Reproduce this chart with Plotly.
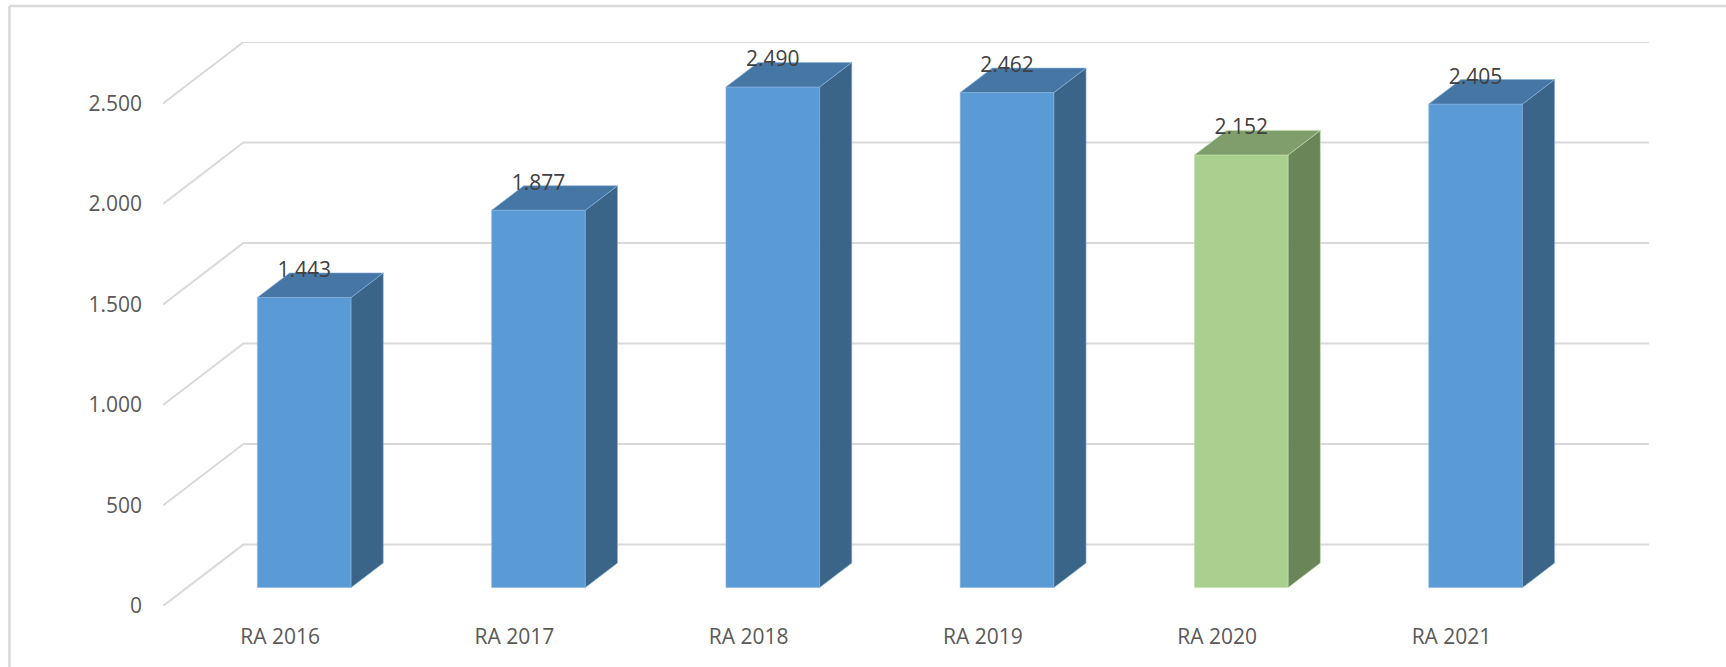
import plotly.graph_objects as go

# ---- data ----
categories = ["RA 2016", "RA 2017", "RA 2018", "RA 2019", "RA 2020", "RA 2021"]
values = [1443, 1877, 2490, 2462, 2152, 2405]
highlight = "RA 2020"
y_ticks = [0, 500, 1000, 1500, 2000, 2500]
y_tick_labels = ["0", "500", "1.000", "1.500", "2.000", "2.500"]

# ---- style / geometry ----
W, H = 1726, 667
PX_L, PX_R = 162.6, 1648.8      # plot area pixel x
PY_T, PY_B = 41.7, 605.7        # plot area pixel y
DX = 0.3431                     # depth offset in category units
DY = 305.4                      # depth offset in value units
F0, F1 = 0.30, 0.70             # bar depth fractions
HALF = 0.20                     # half bar width
YMAX = 2500

blue = dict(front="#5B9BD5", side="#3A6488", top="#4676A4", edge="#8AB6E2")
green = dict(front="#A9D08E", side="#6A8558", top="#7F9E6B", edge="#C3E0AE")
grid_color = "#D9D9D9"
font_family = "Open Sans, Liberation Sans, sans-serif"

fig = go.Figure()

# gridlines: back wall + left wall diagonals
gx, gy = [], []
for v in y_ticks:
    gx += [-0.5, -0.5 + DX, len(categories) - 0.5 + DX, None]
    gy += [v, v + DY, v + DY, None]
fig.add_trace(go.Scatter(x=gx, y=gy, mode="lines",
                         line=dict(color=grid_color, width=2),
                         hoverinfo="skip", showlegend=False))

# 3D bars
ddx = (F1 - F0) * DX
ddy = (F1 - F0) * DY
for i, (cat, v) in enumerate(zip(categories, values)):
    c = green if cat == highlight else blue
    x0 = i - HALF + F0 * DX
    x1 = i + HALF + F0 * DX
    y0 = F0 * DY
    y1 = v + F0 * DY
    faces = [
        ([x0, x1, x1, x0, x0], [y0, y0, y1, y1, y0], c["front"]),
        ([x1, x1 + ddx, x1 + ddx, x1, x1], [y0, y0 + ddy, y1 + ddy, y1, y0], c["side"]),
        ([x0, x1, x1 + ddx, x0 + ddx, x0], [y1, y1, y1 + ddy, y1 + ddy, y1], c["top"]),
    ]
    for fx, fy, col in faces:
        fig.add_trace(go.Scatter(x=fx, y=fy, mode="lines", fill="toself",
                                 fillcolor=col, line=dict(color=c["edge"], width=0.6),
                                 hoverinfo="skip", showlegend=False))

# data labels
lab_x = [i + F0 * DX for i in range(len(categories))]
lab_y = [v + F1 * DY + 6 for v in values]
lab_t = [f"{v:,}".replace(",", ".") for v in values]
fig.add_trace(go.Scatter(x=lab_x, y=lab_y, text=lab_t, mode="text",
                         textposition="middle center",
                         textfont=dict(family=font_family, size=21, color="#404040"),
                         hoverinfo="skip", showlegend=False))

# outer chart border (left and top edges), in paper coords
pw = PX_R - PX_L
ph = PY_B - PY_T
def paper_x(px):
    return (px - PX_L) / pw
def paper_y(py):
    return (PY_B - py) / ph

border_x, border_y = 9, 5.7
shapes = [
    dict(type="line", xref="paper", yref="paper",
         x0=paper_x(border_x), x1=paper_x(border_x),
         y0=paper_y(border_y), y1=paper_y(H + 5),
         line=dict(color=grid_color, width=2.5)),
    dict(type="line", xref="paper", yref="paper",
         x0=paper_x(border_x), x1=paper_x(W + 5),
         y0=paper_y(border_y), y1=paper_y(border_y),
         line=dict(color=grid_color, width=2.5)),
]

fig.update_layout(
    width=W, height=H,
    margin=dict(l=PX_L, r=W - PX_R, t=PY_T, b=H - PY_B, pad=0),
    paper_bgcolor="white", plot_bgcolor="white",
    shapes=shapes,
    showlegend=False,
    xaxis=dict(range=[-0.5, len(categories) - 0.5 + DX],
               tickvals=list(range(len(categories))), ticktext=categories,
               showgrid=False, zeroline=False, showline=False,
               ticks="", ticklabelstandoff=16,
               tickfont=dict(family=font_family, size=21, color="#595959"),
               fixedrange=True),
    yaxis=dict(range=[0, YMAX + DY],
               tickvals=y_ticks, ticktext=y_tick_labels,
               showgrid=False, zeroline=False, showline=False,
               ticks="", ticklabelstandoff=20,
               tickfont=dict(family=font_family, size=21, color="#595959"),
               fixedrange=True),
)

fig.write_html("out.html")
